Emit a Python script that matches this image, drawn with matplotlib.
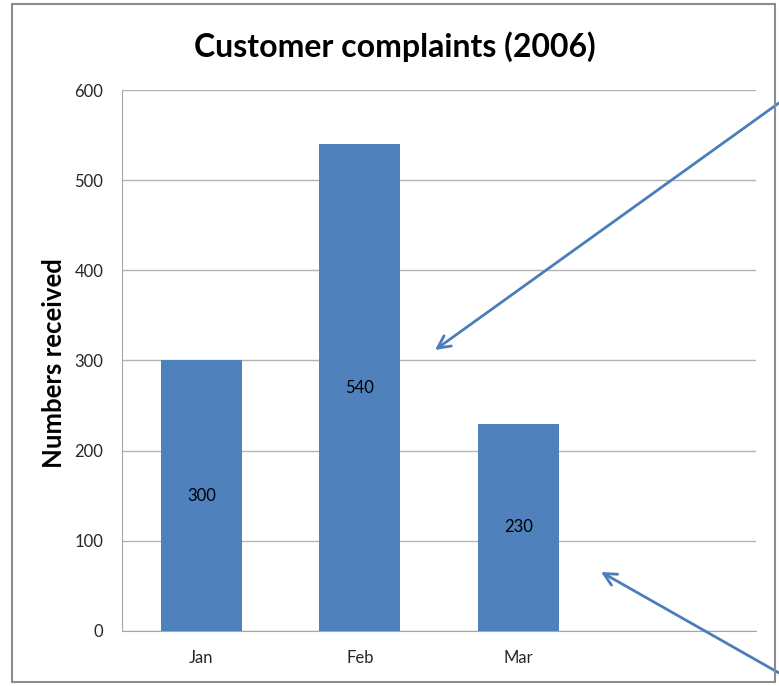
import matplotlib.pyplot as plt
from matplotlib.patches import Rectangle

months = ['Jan', 'Feb', 'Mar']
complaints = [300, 540, 230]
yticks = [0, 100, 200, 300, 400, 500, 600]

plt.rcParams['font.family'] = ['Lato', 'DejaVu Sans']

fig = plt.figure(figsize=(7.79, 6.86), dpi=100)
ax = fig.add_axes([0.1566, 0.0802, 0.8139, 0.7886])

bars = ax.bar(range(len(months)), complaints, width=0.51, color='#4f81bd', zorder=3)
for b, v in zip(bars, complaints):
    ax.text(b.get_x() + b.get_width() / 2, v / 2, str(v), ha='center', va='center',
            fontsize=12, color='black', zorder=4)

ax.set_xlim(-0.5, 3.5)
ax.set_ylim(0, 600)
ax.set_xticks(range(len(months)))
ax.set_xticklabels(months)
ax.set_yticks(yticks)
ax.tick_params(length=0, labelsize=12, labelcolor='#262626')
ax.tick_params(axis='x', pad=14)
ax.tick_params(axis='y', pad=13.5)
ax.yaxis.grid(True, color='#b3b3b3', lw=1, zorder=0)
for s in ['top', 'right']:
    ax.spines[s].set_visible(False)
for s in ['left', 'bottom']:
    ax.spines[s].set_color('#a6a6a6')

fig.text(54 / 779, 1 - 363 / 686, 'Numbers received', rotation=90, ha='center', va='center',
         fontsize=18.5, fontweight='bold')
fig.text(0.507, 0.932, 'Customer complaints (2006)', ha='center', va='center',
         fontsize=23, fontweight='bold')

# outer chart frame
fig.patches.append(Rectangle((0.0154, 0.0058), 0.979, 0.988, transform=fig.transFigure,
                             fill=False, edgecolor='#8c8c8c', lw=1.5))

# callout arrows
arrow = dict(arrowstyle='->,head_length=0.9,head_width=0.45', color='#4a7ebb', lw=2,
             shrinkA=0, shrinkB=0)
ax.annotate('', xy=(0.5584, 0.4898), xytext=(1.0, 0.85), xycoords='figure fraction',
            textcoords='figure fraction', arrowprops=arrow, annotation_clip=False)
ax.annotate('', xy=(0.7715, 0.1662), xytext=(1.0, 0.019), xycoords='figure fraction',
            textcoords='figure fraction', arrowprops=arrow, annotation_clip=False)

fig.savefig('out.png', dpi=100)
